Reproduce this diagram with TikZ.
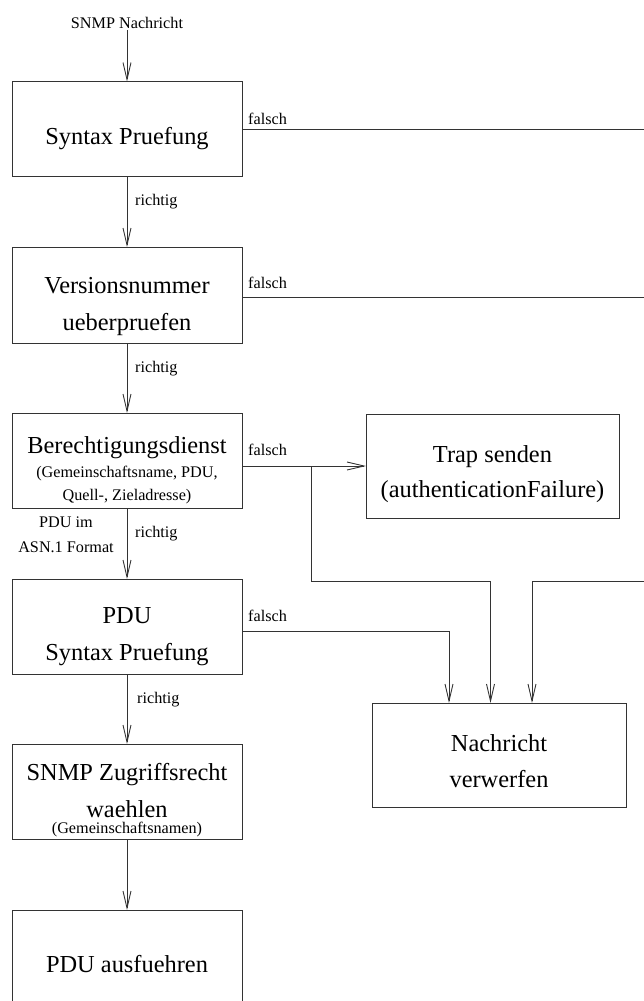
\documentclass[tikz,border=0pt]{standalone}
\usepackage{fontspec}
\setmainfont{Liberation Serif}
\usetikzlibrary{arrows.meta}
\begin{document}
\begin{tikzpicture}[x=1pt,y=-1pt,
  box/.style={draw=black!80, line width=0.9pt, minimum width=230pt, minimum height=95pt, inner sep=0pt, outer sep=0pt},
  big/.style={font=\fontsize{24.4}{28}\selectfont, inner sep=0pt, anchor=base},
  small/.style={font=\fontsize{16.2}{19}\selectfont, inner sep=0pt, anchor=base},
  lbl/.style={small, anchor=base west},
  conn/.style={draw=black!80, line width=0.9pt},
  arr/.style={conn, -{Straight Barb[length=17pt,width=8pt,line width=0.9pt]}}]
\useasboundingbox (0,0) rectangle (644,1001);
\clip (0,0) rectangle (644,1001);

% processing steps
\node[box] (b1) at (127,129) {};
\node[box, minimum height=96pt] (b2) at (127,295) {};
\node[box] (b3) at (127,460.5) {};
\node[box] (b4) at (127,626.5) {};
\node[box] (b5) at (127,791.5) {};
\node[box, minimum height=110pt] (b6) at (127,965) {};
\node[box, minimum width=253pt, minimum height=104pt] (trap) at (492.5,466) {};
\node[box, minimum width=254pt, minimum height=104pt] (drop) at (499,755) {};

% box texts
\node[small] (in) at (127,28) {SNMP Nachricht};
\node[big] (t1) at (127,144) {Syntax Pruefung};
\node[big] (t2a) at (127,293) {Versionsnummer};
\node[big] (t2b) at (127,330) {ueberpruefen};
\node[big] (t3a) at (127,453) {Berechtigungsdienst};
\node[small] (t3b) at (127,477) {(Gemeinschaftsname, PDU,};
\node[small] (t3c) at (127,500) {Quell-, Zieladresse)};
\node[big] (t4a) at (127,623) {PDU};
\node[big] (t4b) at (127,660) {Syntax Pruefung};
\node[big] (t5a) at (127,780) {SNMP Zugriffsrecht};
\node[big] (t5b) at (127,817) {waehlen};
\node[small] (t5c) at (127,833) {(Gemeinschaftsnamen)};
\node[big] (t6) at (127,972) {PDU ausfuehren};
\node[big] (tta) at (492.5,462) {Trap senden};
\node[big] (ttb) at (492.5,497) {(authenticationFailure)};
\node[big] (tda) at (499,751) {Nachricht};
\node[big] (tdb) at (499,787) {verwerfen};

% main flow
\draw[arr] ([yshift=-1.5pt]in.south -| b1.north) -- (b1.north);
\draw[arr] (b1.south) -- (b2.north);
\draw[arr] (b2.south) -- (b3.north);
\draw[arr] (b3.south) -- (b4.north);
\draw[arr] (b4.south) -- (b5.north);
\draw[arr] (b5.south) -- (b6.north);

\node[lbl] (r1) at (135,205) {richtig};
\node[lbl] (r2) at (135,372) {richtig};
\node[lbl] (r3) at (135,537) {richtig};
\node[lbl] (r4) at (137,703) {richtig};
\node[small] (asn1) at (66,527) {PDU im};
\node[small] (asn2) at (66,552) {ASN.1 Format};

% failure branches
\coordinate (e1) at (650,129);
\coordinate (e2) at (650,297);
\coordinate (e4) at (650,581);
\coordinate (bend) at (311,581);
\draw[conn] (b1.east) -- (e1);
\draw[conn] (b2.east |- e2) -- (e2);
\draw[arr] (trap.west -| b3.east) -- (trap.west);
\draw[arr] (bend |- trap.west) -- (bend) -| ([xshift=-8.5pt]drop.north);
\draw[arr] ([yshift=-4.5pt]b4.east) -| ([xshift=-50pt]drop.north);
\draw[arr] (e4) -| ([xshift=33pt]drop.north);

\node[lbl] (f1) at (248,124) {falsch};
\node[lbl] (f2) at (248,288) {falsch};
\node[lbl] (f3) at (248,455) {falsch};
\node[lbl] (f4) at (248,621) {falsch};
\end{tikzpicture}
\end{document}
